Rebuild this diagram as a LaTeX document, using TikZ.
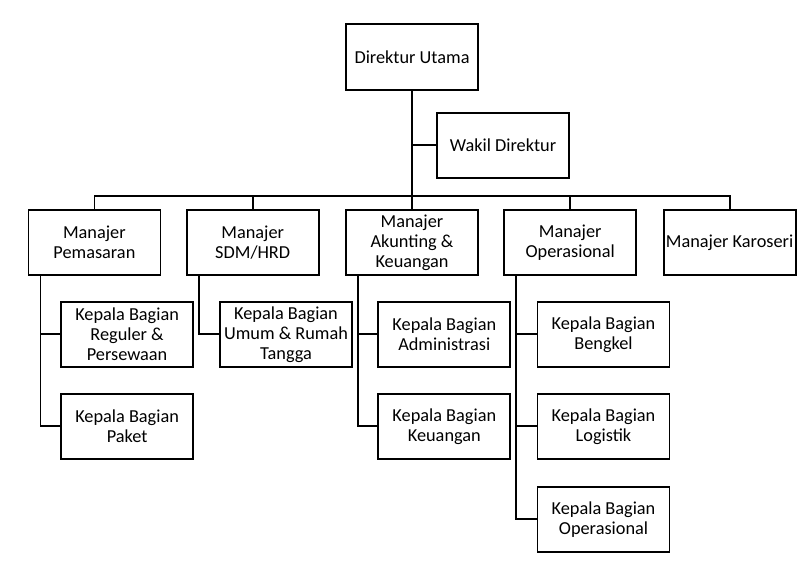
\documentclass[tikz,border=0pt]{standalone}
\usepackage{fontspec}
\setmainfont{Carlito}

\begin{document}
\begin{tikzpicture}[line cap=rect,line join=miter,x=1pt,y=-1pt,
		kotak/.style={draw,line width=1.8pt,minimum width=132pt,minimum height=65pt,inner sep=0pt,align=center,font=\fontsize{18.3}{20}\selectfont},
		garis/.style={line width=1.8pt}]
		\useasboundingbox (0,0) rectangle (809,568);
		% direksi
		\node[kotak,minimum height=66pt] (du) at (412,57.2) {Direktur Utama};
		\node[kotak] (wd) at (503,145.3) {Wakil Direktur};
		% manajer
		\node[kotak] (mpem) at (94.4,242.3) {Manajer\\Pemasaran};
		\node[kotak] (msdm) at (252.7,242.3) {Manajer\\SDM/HRD};
		\node[kotak] (makun) at (412,242.3) {Manajer\\Akunting \&\\Keuangan};
		\node[kotak] (mops) at (570.2,242.3) {Manajer\\Operasional};
		\node[kotak] (mkar) at (729.6,242.3) {Manajer Karoseri};
		% kepala bagian
		\node[kotak] (kreg) at (127.1,334.3) {Kepala Bagian\\Reguler \&\\Persewaan};
		\node[kotak] (kpak) at (127.1,426.3) {Kepala Bagian\\Paket};
		\node[kotak] (kumum) at (286,334.3) {Kepala Bagian\\Umum \& Rumah\\Tangga};
		\node[kotak] (kadm) at (444.3,334.3) {Kepala Bagian\\Administrasi};
		\node[kotak] (kkeu) at (444.3,426.3) {Kepala Bagian\\Keuangan};
		\node[kotak] (kbeng) at (603.5,334.3) {Kepala Bagian\\Bengkel};
		\node[kotak] (klog) at (603.5,426.3) {Kepala Bagian\\Logistik};
		\node[kotak] (kops) at (603.5,519.3) {Kepala Bagian\\Operasional};
		\coordinate (bus) at (412,196);
		% garis
		\draw[garis] (du.south) -- (makun.north);
		\draw[garis] (wd.west) -- (du.south |- wd.west);
		\draw[garis] (mpem.north) |- (bus) -| (mkar.north);
		\draw[garis] (msdm.north) |- (bus);
		\draw[garis] (mops.north) |- (bus);
		\draw[garis] ([xshift=13pt]mpem.south west) |- (kreg.west);
		\draw[garis] ([xshift=13pt]mpem.south west) |- (kpak.west);
		\draw[garis] ([xshift=13pt]msdm.south west) |- (kumum.west);
		\draw[garis] ([xshift=13pt]makun.south west) |- (kadm.west);
		\draw[garis] ([xshift=13pt]makun.south west) |- (kkeu.west);
		\draw[garis] ([xshift=13pt]mops.south west) |- (kbeng.west);
		\draw[garis] ([xshift=13pt]mops.south west) |- (klog.west);
		\draw[garis] ([xshift=13pt]mops.south west) |- (kops.west);
\end{tikzpicture}
\end{document}
